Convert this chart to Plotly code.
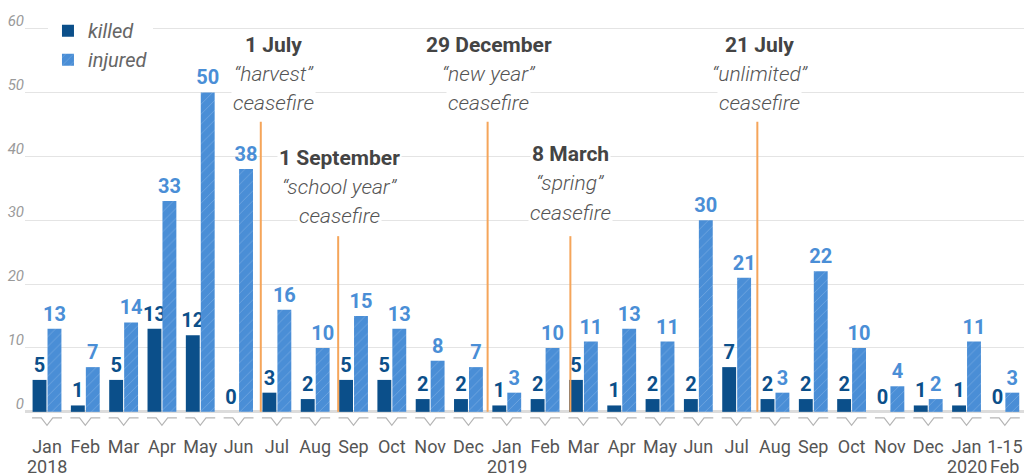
import plotly.graph_objects as go

categories = ["Jan 2018", "Feb 2018", "Mar 2018", "Apr 2018", "May 2018", "Jun 2018",
              "Jul 2018", "Aug 2018", "Sep 2018", "Oct 2018", "Nov 2018", "Dec 2018",
              "Jan 2019", "Feb 2019", "Mar 2019", "Apr 2019", "May 2019", "Jun 2019",
              "Jul 2019", "Aug 2019", "Sep 2019", "Oct 2019", "Nov 2019", "Dec 2019",
              "Jan 2020", "1-15 Feb 2020"]
tick_labels = ["Jan", "Feb", "Mar", "Apr", "May", "Jun", "Jul", "Aug", "Sep", "Oct",
               "Nov", "Dec", "Jan", "Feb", "Mar", "Apr", "May", "Jun", "Jul", "Aug",
               "Sep", "Oct", "Nov", "Dec", "Jan", "1-15"]
tick_labels_2nd = ["2018", "", "", "", "", "", "", "", "", "", "", "", "2019", "", "", "", "",
                   "", "", "", "", "", "", "", "2020", "Feb"]
killed = [5, 1, 5, 13, 12, 0, 3, 2, 5, 5, 2, 2, 1, 2, 5, 1, 2, 2, 7, 2, 2, 2, 0, 1, 1, 0]
injured = [13, 7, 14, 33, 50, 38, 16, 10, 15, 13, 8, 7, 3, 10, 11, 13, 11, 30, 21, 3, 22, 10, 4, 2, 11, 3]

# ceasefires
cf_titles = ["1 July", "1 September", "29 December", "8 March", "21 July"]
cf_names = ["“harvest”", "“school year”", "“new year”", "“spring”", "“unlimited”"]
cf_pos = [5.58, 7.60, 11.5, 13.66, 18.54]
cf_line_top = [45.4, 27.5, 45.4, 27.5, 45.4]
cf_label_x = [5.92, 7.63, 11.53, 13.66, 18.6]
cf_title_y = [57.5, 39.8, 57.5, 40.3, 57.5]

KILLED_C = "#0b4f8a"
INJ_C = "#4a8ed6"
FONT = "Roboto"
LINE_STEP = 4.55  # vertical step between annotation lines (data units)

fig = go.Figure()
fig.add_trace(go.Bar(
    x=categories, y=killed, name="killed",
    marker=dict(color=KILLED_C, line=dict(width=0)),
    text=[str(v) for v in killed], textposition="outside", cliponaxis=False,
    constraintext="none",
    textfont=dict(family=FONT, size=20, color=KILLED_C, weight=700),
))
fig.add_trace(go.Bar(
    x=categories, y=injured, name="injured",
    marker=dict(color=INJ_C, line=dict(width=0),
                pattern=dict(shape="/", fgcolor="rgba(255,255,255,0.38)", size=7, solidity=0.14)),
    text=[str(v) for v in injured], textposition="outside", cliponaxis=False,
    constraintext="none",
    textfont=dict(family=FONT, size=20, color=INJ_C, weight=700),
))

shapes = []
# decorative notched tick marks below baseline
for i in range(len(categories)):
    a, b = i - 0.39, i + 0.39
    c = i
    shapes.append(dict(
        type="path", xref="x", yref="y",
        path=f"M {a},-0.95 L {c-0.15},-0.95 L {c},-2.1 L {c+0.15},-0.95 L {b},-0.95",
        line=dict(color="#b5b5b5", width=1.2), layer="below"))
for p, top in zip(cf_pos, cf_line_top):
    shapes.append(dict(type="line", xref="x", yref="y", x0=p, x1=p, y0=0, y1=top,
                       line=dict(color="#f5a55a", width=2)))

annotations = []
for t, n, x, y in zip(cf_titles, cf_names, cf_label_x, cf_title_y):
    for k, (txt, sz, w, col, st) in enumerate([(t, 21, 700, "#444444", "normal"),
                                                (n, 21, 300, "#555555", "italic"),
                                                ("ceasefire", 21, 300, "#555555", "italic")]):
        annotations.append(dict(
            x=x, y=y - k * LINE_STEP, xref="x", yref="y", showarrow=False,
            text=txt, font=dict(family=FONT, size=sz, color=col, weight=w, style=st),
            bgcolor="white", align="center", xanchor="center", yanchor="middle",
        ))
# second line of x tick labels
for cat, txt in zip(categories, tick_labels_2nd):
    if txt:
        annotations.append(dict(
            x=cat, y=-0.082, xref="x", yref="paper", showarrow=False, text=txt,
            font=dict(family=FONT, size=18, color="#555555"),
            xanchor="center", yanchor="middle"))

fig.update_layout(
    width=1027, height=476,
    margin=dict(l=25, r=3, t=3, b=45, autoexpand=False),
    paper_bgcolor="white", plot_bgcolor="white",
    barmode="group", bargap=0.22, bargroupgap=0.07,
    shapes=shapes, annotations=annotations,
    showlegend=True,
    legend=dict(x=0.023, y=0.981, xanchor="left", yanchor="top",
                bgcolor="white", font=dict(family=FONT, size=20, color="#666666", style="italic"),
                itemwidth=30),
    xaxis=dict(type="category", tickmode="array", tickvals=categories, ticktext=tick_labels,
               tickfont=dict(family=FONT, size=18, color="#555555"), tickangle=0,
               ticklabelstandoff=3,
               showgrid=False, showline=False, ticks="", fixedrange=True, automargin=False),
    yaxis=dict(range=[-3, 64], tickvals=[0, 10, 20, 30, 40, 50, 60],
               tickfont=dict(family=FONT, size=15, color="#9a9a9a", style="italic"),
               showgrid=True, gridcolor="#e4e4e4", gridwidth=1,
               zeroline=True, zerolinecolor="#dcdcdc", zerolinewidth=3,
               ticklabelshift=-8, ticks="", showline=False, automargin=False,
               fixedrange=True),
)

fig.write_html("out.html", config={"displayModeBar": False},
               post_script="document.body.style.margin='0';document.body.style.overflow='hidden';")
